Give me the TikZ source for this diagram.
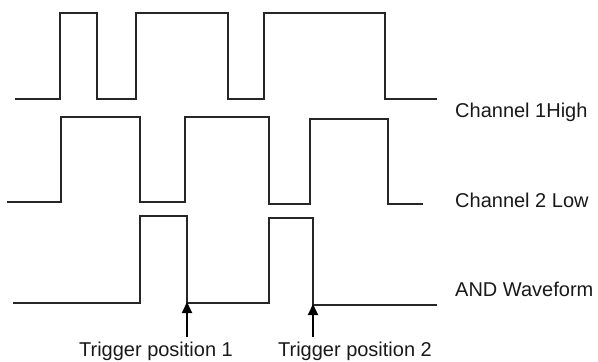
\documentclass[tikz,border=0pt]{standalone}
\usepackage{fontspec}
\setmainfont{Liberation Sans}
\usetikzlibrary{arrows.meta}
\begin{document}
\begin{tikzpicture}[x=1pt,y=-1pt,
  wave/.style={line width=1.1pt, draw=black!85, line join=miter},
  lbl/.style={anchor=base west, inner sep=0pt, font=\fontsize{20}{24}\selectfont, text=black!90},
  tlbl/.style={anchor=base, inner sep=0pt, font=\fontsize{20}{24}\selectfont, text=black!90},
  trig/.style={line width=2pt, draw=black, -{Triangle[length=11pt,width=10pt]}, shorten >=-1pt}]
\useasboundingbox (0,0) rectangle (598,362);
% Channel 1
\draw[wave] (15,99) -- (60,99) -- (60,13) -- (97,13) -- (97,99) -- (136,99) -- (136,13)
  -- (228,13) -- (228,99) -- (264,99) -- (264,13) -- (385,13) -- (385,99) -- (437,99);
% Channel 2
\draw[wave] (7,202) -- (61,202) -- (61,117) -- (140,117) -- (140,202) -- (185,202) -- (185,117)
  -- (269,117) -- (269,204) -- (310,204) -- (310,119) -- (388,119) -- (388,204) -- (423,204);
% AND waveform
\draw[wave] (13,303) -- (140,303) -- (140,216) -- (187,216) -- (187,303) -- (269,303) -- (269,218)
  -- (313,218) -- (313,305) -- (437,305);
% labels
\node[lbl] (c1) at (455,117) {Channel 1High};
\node[lbl] (c2) at (455,207) {Channel 2 Low};
\node[lbl] (aw) at (455,296) {AND Waveform};
\node[tlbl] (tp1) at (156,356) {Trigger position 1};
\node[tlbl] (tp2) at (355,356) {Trigger position 2};
\coordinate (t1) at (187,303);
\coordinate (t2) at (313,305);
\draw[trig] (tp1.north -| t1) ++(0,-4) -- (t1);
\draw[trig] (tp2.north -| t2) ++(0,-4) -- (t2);
\end{tikzpicture}
\end{document}
